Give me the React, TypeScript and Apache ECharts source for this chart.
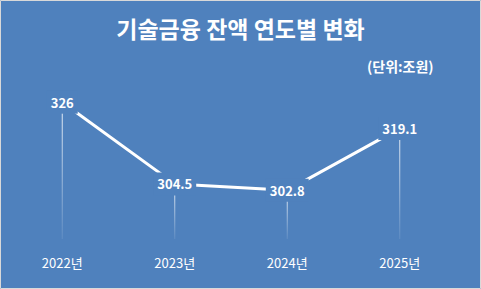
import React, { useEffect, useRef } from "react";
import * as echarts from "echarts";

const categories = ["2022년", "2023년", "2024년", "2025년"];
const balances = [326, 304.5, 302.8, 319.1];
const titleText = "기술금융 잔액 연도별 변화";
const unitText = "(단위:조원)";

const BG = "#4F81BD";
const FONT = "'Malgun Gothic', 'Noto Sans CJK KR', sans-serif";

export default function App() {
  const ref = useRef<HTMLDivElement>(null);
  useEffect(() => {
    if (!ref.current) return;
    const chart = echarts.init(ref.current, undefined, { renderer: "svg" });
    chart.setOption({
      animation: false,
      backgroundColor: BG,
      title: [
        {
          text: titleText,
          left: "center",
          top: 11,
          textStyle: { color: "#fff", fontSize: 23, fontWeight: "bold", fontFamily: FONT },
        },
        {
          text: unitText,
          left: 362,
          top: 54,
          textStyle: { color: "#fff", fontSize: 14, fontWeight: "bold", fontFamily: FONT },
        },
      ],
      graphic: [
        {
          type: "rect",
          shape: { x: 0.5, y: 0.5, width: 480, height: 288 },
          style: { fill: "none", stroke: "#D9D9D9", lineWidth: 1 },
          silent: true,
          z: 100,
        },
      ],
      grid: { left: 6, right: 25, top: 87, bottom: 50 },
      xAxis: {
        type: "category",
        data: categories,
        boundaryGap: true,
        axisLine: { show: false },
        axisTick: { show: false },
        axisLabel: { color: "#fff", fontSize: 13, margin: 17, fontFamily: FONT },
      },
      yAxis: {
        type: "value",
        min: 290,
        max: 330,
        show: false,
        splitLine: { show: false },
      },
      series: [
        {
          type: "bar",
          data: balances,
          barWidth: 1,
          z: 1,
          itemStyle: {
            color: new echarts.graphic.LinearGradient(0, 0, 0, 1, [
              { offset: 0, color: "rgba(255,255,255,0.9)" },
              { offset: 1, color: "rgba(255,255,255,0.1)" },
            ]),
          },
          silent: true,
        },
        {
          type: "line",
          data: balances,
          z: 3,
          showSymbol: true,
          symbol: "circle",
          symbolSize: 1,
          itemStyle: { color: "#fff" },
          lineStyle: { color: "#fff", width: 3 },
          label: {
            show: true,
            position: "inside",
            color: "#fff",
            fontSize: 13,
            fontWeight: "bold",
            fontFamily: FONT,
            backgroundColor: BG,
            padding: [4, 4],
            lineHeight: 15,
          },
        },
      ],
    });
    return () => chart.dispose();
  }, []);
  return (
    <div
      ref={ref}
      style={{ position: "fixed", left: 0, top: 0, width: 481, height: 289 }}
    />
  );
}
